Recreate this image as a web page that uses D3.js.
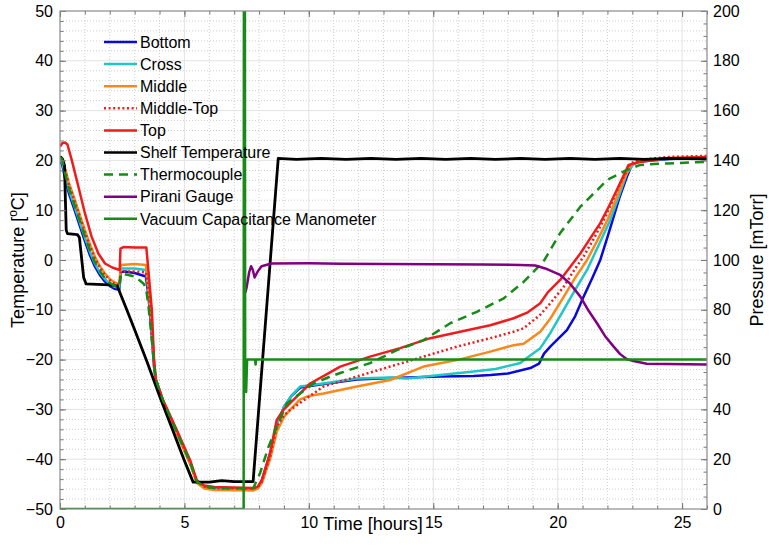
<!DOCTYPE html>
<html>
<head>
<meta charset="utf-8">
<script src="https://cdn.jsdelivr.net/npm/d3@7"></script>
<style>
body { margin: 0; background: #fff; }
svg text { font-family: Arial, "Liberation Sans", sans-serif; }
</style>
</head>
<body>
<svg id="chart" width="773" height="554"></svg>
<script>
// ---- data: [hours, value] (temperatures in degC, pressures in mTorr) ----
const bottom = [[0,19.6],[0.08,19.3],[0.2,16.5],[0.35,13.5],[0.6,9.8],[0.8,6.8],[1.0,3.8],[1.2,1.0],[1.4,-1.3],[1.6,-3.0],[1.8,-4.3],[2.0,-5.2],[2.2,-5.8],[2.38,-6.0],[2.45,-2.4],[2.6,-2.3],[3.0,-2.6],[3.45,-3.3],[3.55,-7],[3.67,-14],[3.78,-21.5],[3.85,-24.2],[4.14,-28.4],[4.69,-34.7],[5.23,-40.8],[5.5,-44.6],[5.8,-45.6],[6.2,-45.9],[7.76,-46.0],[7.95,-45.6],[8.11,-44.3],[8.44,-39],[8.71,-33],[9.0,-29.5],[9.3,-27.3],[9.65,-25.6],[10.59,-24.9],[11.93,-24.0],[13.27,-23.7],[14.0,-23.6],[15.28,-23.4],[16.62,-23.3],[17.3,-23.1],[18.0,-22.8],[18.9,-21.7],[19.25,-20.8],[19.45,-18.8],[19.7,-17.4],[20.37,-14.1],[20.7,-11.3],[21.04,-7.4],[21.4,-3.5],[21.71,0.0],[22.0,4.6],[22.25,8.7],[22.5,12.8],[22.78,16.7],[22.98,19.1],[23.3,19.8],[24.5,20.3],[26,20.6]];
const cross = [[0,20.0],[0.08,19.8],[0.2,17.2],[0.35,14.2],[0.6,10.5],[0.8,7.5],[1.0,4.5],[1.2,1.7],[1.4,-0.7],[1.6,-2.5],[1.8,-3.8],[2.0,-4.8],[2.2,-5.4],[2.38,-5.6],[2.45,-1.7],[3.0,-1.7],[3.45,-2.0],[3.55,-6],[3.67,-13],[3.78,-21],[3.85,-24],[4.14,-28.3],[4.69,-34.5],[5.23,-40.7],[5.5,-44.6],[5.8,-45.7],[6.2,-46.0],[7.76,-46.1],[7.95,-45.6],[8.11,-44.3],[8.44,-39],[8.71,-33],[9.0,-29.5],[9.3,-27.3],[9.65,-25.4],[10.59,-24.8],[11.93,-23.8],[13.27,-23.6],[13.94,-23.8],[15.28,-23.1],[16.62,-22.4],[17.5,-21.9],[18.5,-20.7],[18.76,-19.7],[19.3,-17.7],[19.7,-14.7],[20.24,-10.0],[20.7,-6.0],[21.18,-2.0],[21.65,3.0],[22.11,8.0],[22.45,12.7],[22.78,17.4],[23.05,19.3],[23.4,19.9],[24.5,20.4],[26,20.6]];
const middle = [[0,20.5],[0.08,20.3],[0.2,18.5],[0.35,15.6],[0.6,12],[0.8,9],[1.0,6],[1.2,3.2],[1.4,0.7],[1.6,-1.2],[1.8,-2.7],[2.0,-3.8],[2.2,-4.5],[2.38,-4.8],[2.45,-1.0],[3.0,-0.8],[3.45,-1.0],[3.55,-5],[3.67,-12],[3.78,-20.5],[3.85,-24],[4.14,-28.5],[4.69,-34.8],[5.23,-41],[5.5,-44.8],[5.8,-45.9],[6.2,-46.2],[7.76,-46.3],[7.95,-45.9],[8.11,-44.8],[8.44,-40],[8.71,-34.5],[9.0,-31.5],[9.3,-29.8],[9.65,-28.0],[10.0,-27.3],[10.59,-26.8],[11.93,-25.4],[13.27,-24.1],[14.61,-21.4],[15.95,-20.1],[17.29,-18.4],[18.23,-17.1],[18.63,-16.8],[19.3,-14.4],[19.7,-11.8],[20.24,-7.4],[20.7,-3.6],[21.18,0.0],[21.6,4.0],[22.0,8.0],[22.35,12.3],[22.65,16.1],[22.95,19.2],[23.4,20.0],[24.5,20.5],[26,20.7]];
const middleTop = [[0,20.6],[0.08,20.4],[0.2,18.3],[0.35,15.3],[0.6,11.6],[0.8,8.6],[1.0,5.6],[1.2,2.8],[1.4,0.4],[1.6,-1.5],[1.8,-3.0],[2.0,-4.0],[2.2,-4.8],[2.38,-5.0],[2.45,-2.3],[3.0,-2.3],[3.45,-2.5],[3.55,-6],[3.67,-13],[3.78,-21],[3.85,-24],[4.14,-28.3],[4.69,-34.4],[5.23,-40.6],[5.5,-44.4],[5.8,-45.5],[6.2,-45.8],[7.76,-45.9],[7.95,-45.6],[8.11,-44.5],[8.44,-39.5],[8.71,-33.5],[9.0,-31.2],[9.25,-30.1],[10.59,-25.4],[11.93,-23.4],[13.27,-21.4],[14.61,-19.4],[15.95,-17.4],[17.29,-15.7],[18.23,-14.4],[18.63,-13.7],[19.3,-11.0],[19.7,-8.7],[20.24,-5.4],[20.6,-2.5],[21.04,0.7],[21.45,4.3],[21.85,8.0],[22.2,11.8],[22.52,15.4],[22.92,19.4],[23.4,20.2],[24.5,20.7],[26,20.9]];
const top_ = [[0,22.8],[0.1,23.5],[0.2,23.6],[0.3,23.2],[0.47,20.1],[0.74,14.7],[1.0,9.4],[1.27,4.7],[1.54,1.3],[1.81,-0.7],[2.1,-1.5],[2.4,-2.0],[2.43,2.3],[2.55,2.6],[3.0,2.5],[3.47,2.5],[3.55,-2],[3.69,-10],[3.78,-20],[3.85,-24],[4.14,-28.1],[4.69,-34.1],[5.23,-40.2],[5.5,-44.3],[5.8,-45.3],[6.2,-45.6],[7.76,-45.8],[7.95,-45.5],[8.11,-44.2],[8.44,-38.8],[8.71,-32.1],[8.98,-30.1],[9.38,-28.1],[10.05,-24.8],[10.8,-22.7],[11.26,-21.4],[12.46,-19.4],[13.67,-17.7],[14.88,-15.7],[16.08,-14.4],[17.29,-13.1],[18.23,-11.7],[18.8,-10.5],[19.3,-8.7],[19.6,-6.5],[20.1,-4.0],[20.5,-1.4],[20.91,1.3],[21.3,4.3],[21.71,7.4],[22.05,10.7],[22.38,14.1],[22.85,19.1],[23.32,19.7],[24.26,20.4],[26,20.7]];
const shelf = [[0,20.8],[0.1,20.3],[0.18,19],[0.25,6],[0.3,5.3],[0.5,5.2],[0.7,5.1],[0.78,4.5],[0.95,-3.5],[1.05,-4.8],[1.5,-4.9],[2.0,-5.0],[2.3,-5.2],[2.7,-10.2],[3.0,-14],[3.5,-20.5],[4.0,-27.3],[4.5,-33.8],[5.0,-40.3],[5.35,-44.6],[6.0,-44.6],[6.5,-44.3],[7.0,-44.5],[7.76,-44.5],[8.77,20.4],[9.5,20.2],[10.5,20.4],[11.5,20.2],[12.5,20.4],[13.5,20.2],[14.5,20.4],[15.5,20.2],[16.5,20.4],[17.5,20.2],[18.5,20.4],[19.5,20.2],[20.5,20.4],[21.5,20.2],[22.5,20.4],[23.5,20.2],[24.5,20.4],[26,20.3]];
const thermocouple = [[0,20.5],[0.08,20.3],[0.2,17.5],[0.35,14.5],[0.6,10.8],[0.8,7.8],[1.0,4.8],[1.2,2.0],[1.4,-0.4],[1.6,-2.2],[1.8,-3.6],[2.0,-4.6],[2.2,-5.2],[2.38,-5.5],[2.45,-2.7],[3.0,-3.3],[3.35,-4.7],[3.45,-5.5],[3.55,-9],[3.67,-15],[3.78,-21],[3.85,-24],[4.14,-28.2],[4.69,-34.5],[5.23,-40.6],[5.5,-44.5],[5.8,-45.5],[6.2,-45.8],[7.76,-45.9],[8.04,-42.8],[8.38,-37.5],[8.71,-33.5],[9.12,-28.8],[9.65,-26.8],[10.19,-24.8],[10.86,-23.4],[11.26,-22.7],[12.46,-20.7],[13.54,-18.1],[14.61,-16.1],[15.68,-12.7],[16.75,-10.4],[17.83,-7.7],[18.63,-4.4],[19.43,-0.3],[20.1,5.4],[20.91,10.7],[22.0,16.1],[22.78,18.1],[23.32,19.1],[24.4,19.4],[26,19.7]];
const pirani = [[7.45,87],[7.5,89],[7.6,95],[7.68,97.5],[7.75,96],[7.82,93],[7.95,95.5],[8.1,97.5],[8.5,98.6],[10,98.7],[11.3,98.5],[13,98.4],[15,98.3],[17,98.2],[18.5,98],[19.1,97.8],[19.5,96.6],[20.1,94.0],[20.5,90.5],[20.91,85.3],[21.25,79.5],[21.58,74.6],[21.9,69.5],[22.25,65.2],[22.5,62.3],[22.78,60.1],[23.1,59.3],[23.58,58.3],[26,58]];
const vacuum = [[0,0],[7.38,0],[7.39,215],[7.43,215],[7.44,60],[7.48,47],[7.52,60],[7.84,60],[7.86,58],[7.88,60],[26,60]];

const xTicks = [0, 5, 10, 15, 20, 25];
const tempTicks = [-50, -40, -30, -20, -10, 0, 10, 20, 30, 40, 50];
const presTicks = [0, 20, 40, 60, 80, 100, 120, 140, 160, 180, 200];

// series styling
const series = [
    {name: "Bottom", data: bottom, color: "#0a0ad8", axis: "T"},
    {name: "Cross", data: cross, color: "#21c6c6", axis: "T"},
    {name: "Middle", data: middle, color: "#f7891c", axis: "T"},
    {name: "Middle-Top", data: middleTop, color: "#ee1c1c", axis: "T", dash: "2,2.6"},
    {name: "Top", data: top_, color: "#ee1c1c", axis: "T"},
    {name: "Shelf Temperature", data: shelf, color: "#000000", axis: "T"},
    {name: "Thermocouple", data: thermocouple, color: "#178a17", axis: "T", dash: "9,6"},
    {name: "Pirani Gauge", data: pirani, color: "#800080", axis: "P"},
    {name: "Vacuum Capacitance Manometer", data: vacuum, color: "#178a17", axis: "P"}
];

const plot = {left: 60, right: 707, top: 11, bottom: 509};

const x = d3.scaleLinear([0, 26], [plot.left, plot.right]);
const yT = d3.scaleLinear([-50, 50], [plot.bottom, plot.top]);
const yP = d3.scaleLinear([0, 200], [plot.bottom, plot.top]);

const svg = d3.select("#chart");

svg.append("defs").append("clipPath").attr("id", "clip")
  .append("rect")
    .attr("x", plot.left).attr("y", plot.top)
    .attr("width", plot.right - plot.left).attr("height", plot.bottom - plot.top);

// grid: dotted minor, solid major
const grid = svg.append("g");
grid.selectAll(".vminor").data(d3.range(1, 26).filter(d => d % 5 != 0))
  .join("line")
    .attr("x1", d => x(d)).attr("x2", d => x(d))
    .attr("y1", plot.top).attr("y2", plot.bottom)
    .attr("stroke", "#cfcfcf").attr("stroke-dasharray", "1,2");
grid.selectAll(".hminor").data(d3.range(-48, 50, 2).filter(d => d % 10 != 0))
  .join("line")
    .attr("x1", plot.left).attr("x2", plot.right)
    .attr("y1", d => yT(d)).attr("y2", d => yT(d))
    .attr("stroke", "#cfcfcf").attr("stroke-dasharray", "1,2");
grid.selectAll(".vmajor").data(xTicks.slice(1))
  .join("line")
    .attr("x1", d => x(d)).attr("x2", d => x(d))
    .attr("y1", plot.top).attr("y2", plot.bottom)
    .attr("stroke", "#e3e3e3");
grid.selectAll(".hmajor").data(tempTicks.slice(1, -1))
  .join("line")
    .attr("x1", plot.left).attr("x2", plot.right)
    .attr("y1", d => yT(d)).attr("y2", d => yT(d))
    .attr("stroke", "#e3e3e3");

// data lines
const gLines = svg.append("g").attr("clip-path", "url(#clip)");
series.forEach(s => {
    const yScale = s.axis == "T" ? yT : yP;
    const line = d3.line().x(d => x(d[0])).y(d => yScale(d[1]));
    gLines.append("path")
        .datum(s.data)
        .attr("d", line)
        .attr("fill", "none")
        .attr("stroke", s.color)
        .attr("stroke-width", s.name == "Shelf Temperature" ? 2.8 : 2.5)
        .attr("stroke-linejoin", "round")
        .attr("stroke-dasharray", s.dash || null);
});

// axes (ticks point inward)
function styleAxis(g) {
    g.select(".domain").remove();
    g.selectAll(".tick line").attr("stroke", "#777");
    g.selectAll(".tick text").attr("fill", "#000").attr("font-size", 16)
        .attr("font-family", "Arial, 'Liberation Sans', sans-serif");
}
svg.append("g").attr("transform", `translate(0,${plot.bottom})`)
    .call(d3.axisBottom(x).tickValues(xTicks).tickSize(-6).tickPadding(8))
    .call(styleAxis);
svg.append("g").attr("transform", `translate(0,${plot.bottom})`)
    .call(d3.axisBottom(x).tickValues(d3.range(0, 27)).tickSize(-3.5).tickFormat(""))
    .call(styleAxis);
svg.append("g").attr("transform", `translate(0,${plot.top})`)
    .call(d3.axisTop(x).tickValues(xTicks).tickSize(-6).tickFormat(""))
    .call(styleAxis);
svg.append("g").attr("transform", `translate(0,${plot.top})`)
    .call(d3.axisTop(x).tickValues(d3.range(0, 27)).tickSize(-3.5).tickFormat(""))
    .call(styleAxis);
svg.append("g").attr("transform", `translate(${plot.left},0)`)
    .call(d3.axisLeft(yT).tickValues(tempTicks).tickSize(-6).tickPadding(7))
    .call(styleAxis);
svg.append("g").attr("transform", `translate(${plot.left},0)`)
    .call(d3.axisLeft(yT).tickValues(d3.range(-50, 51, 2)).tickSize(-3.5).tickFormat(""))
    .call(styleAxis);
svg.append("g").attr("transform", `translate(${plot.right},0)`)
    .call(d3.axisRight(yP).tickValues(presTicks).tickSize(-6).tickPadding(6))
    .call(styleAxis);
svg.append("g").attr("transform", `translate(${plot.right},0)`)
    .call(d3.axisRight(yP).tickValues(d3.range(0, 201, 5)).tickSize(-3.5).tickFormat(""))
    .call(styleAxis);

// plot box
svg.append("rect")
    .attr("x", plot.left).attr("y", plot.top)
    .attr("width", plot.right - plot.left).attr("height", plot.bottom - plot.top)
    .attr("fill", "none").attr("stroke", "#8a8a8a").attr("stroke-width", 1.2);

// axis titles
svg.append("text")
    .attr("x", 373).attr("y", 530)
    .attr("text-anchor", "middle").attr("font-size", 18)
    .text("Time [hours]");
const tTitle = svg.append("text")
    .attr("transform", `translate(24,${(plot.top + plot.bottom) / 2}) rotate(-90)`)
    .attr("text-anchor", "middle").attr("font-size", 18);
tTitle.append("tspan").text("Temperature [");
tTitle.append("tspan").attr("font-size", 12).attr("dy", -7).text("o");
tTitle.append("tspan").attr("dy", 7).text("C]");
svg.append("text")
    .attr("transform", `translate(763,${(plot.top + plot.bottom) / 2}) rotate(-90)`)
    .attr("text-anchor", "middle").attr("font-size", 18)
    .text("Pressure [mTorr]");

// legend (no box)
const legend = svg.append("g").attr("transform", "translate(104,42)");
const entry = legend.selectAll("g").data(series).join("g")
    .attr("transform", (d, i) => `translate(0,${i * 22.1})`);
entry.append("line")
    .attr("x1", 0).attr("x2", 33)
    .attr("stroke", d => d.color).attr("stroke-width", 2.5)
    .attr("stroke-dasharray", d => d.dash || null);
entry.append("text")
    .attr("x", 36).attr("dy", "0.36em").attr("font-size", 16)
    .text(d => d.name);
</script>
</body>
</html>
